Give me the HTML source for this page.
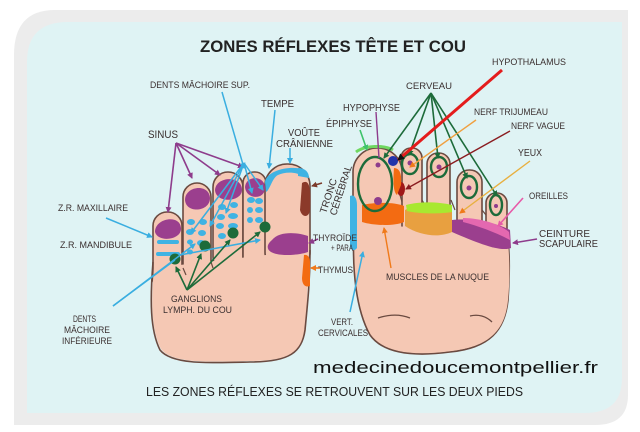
<!DOCTYPE html>
<html><head><meta charset="utf-8"><style>
html,body{margin:0;padding:0;background:#fff;}
svg{display:block}
text{font-family:"Liberation Sans",sans-serif;fill:#3a2f2f}
</style></head><body>
<svg width="640" height="432" viewBox="0 0 640 432" xmlns="http://www.w3.org/2000/svg">
<defs>
<marker id="mp" markerWidth="6" markerHeight="6" refX="5" refY="3" orient="auto" markerUnits="userSpaceOnUse"><path d="M0,0L6,3L0,6z" fill="#8e3c8c"/></marker>
<marker id="mb" markerWidth="6" markerHeight="6" refX="5" refY="3" orient="auto" markerUnits="userSpaceOnUse"><path d="M0,0L6,3L0,6z" fill="#3aaee0"/></marker>
<marker id="mg" markerWidth="6" markerHeight="6" refX="5" refY="3" orient="auto" markerUnits="userSpaceOnUse"><path d="M0,0L6,3L0,6z" fill="#1d6b3a"/></marker>
<marker id="mo" markerWidth="6" markerHeight="6" refX="5" refY="3" orient="auto" markerUnits="userSpaceOnUse"><path d="M0,0L6,3L0,6z" fill="#f07a1a"/></marker>
<marker id="mr" markerWidth="7" markerHeight="7" refX="6" refY="3.5" orient="auto" markerUnits="userSpaceOnUse"><path d="M0,0L7,3.5L0,7z" fill="#111"/></marker>
<marker id="md" markerWidth="6" markerHeight="6" refX="5" refY="3" orient="auto" markerUnits="userSpaceOnUse"><path d="M0,0L6,3L0,6z" fill="#8a1c20"/></marker>
<marker id="mk" markerWidth="6" markerHeight="6" refX="5" refY="3" orient="auto" markerUnits="userSpaceOnUse"><path d="M0,0L6,3L0,6z" fill="#e75aa8"/></marker>
<marker id="mn" markerWidth="6" markerHeight="6" refX="5" refY="3" orient="auto" markerUnits="userSpaceOnUse"><path d="M0,0L6,3L0,6z" fill="#7b3a2a"/></marker>
<marker id="ml" markerWidth="6" markerHeight="6" refX="5" refY="3" orient="auto" markerUnits="userSpaceOnUse"><path d="M0,0L6,3L0,6z" fill="#3ec36a"/></marker>
</defs>
<rect width="640" height="432" fill="#fff"/>
<path d="M55,10 L628,10 L628,395 Q628,425 595,425 L14,425 L14,55 Q14,10 55,10Z" fill="#ececec"/>
<path d="M68,22 L622,22 L622,378 Q622,413 585,413 L27,413 L27,62 Q27,22 68,22Z" fill="#dff3f4"/>

<text x="333" y="52" font-size="17" font-weight="bold" text-anchor="middle" style="fill:#222" textLength="266" lengthAdjust="spacingAndGlyphs">ZONES RÉFLEXES TÊTE ET COU</text>

<!-- LEFT FOOT -->
<g fill="#f5c8b4" stroke="#6a4a40" stroke-width="1.6">
<rect x="153" y="212" width="29" height="80" rx="14"/>
<rect x="183" y="183" width="28" height="100" rx="14"/>
<rect x="213" y="172" width="30" height="100" rx="15"/>
<rect x="243" y="172" width="23" height="100" rx="11"/>
<rect x="265" y="164" width="45" height="110" rx="22"/>
</g>
<path d="M154,268 L309,250 L306,330 C302,352 290,361 250,361 C210,362 172,364 161,349 C151,330 151,300 154,268Z" fill="#f5c8b4"/>
<path d="M153,262 C150,300 150,330 160,350 C172,365 210,363 250,362 C290,362 302,352 305,330 C308,300 310,280 310,250" fill="none" stroke="#6a4a40" stroke-width="1.6"/>
<path d="M183,268 L186,275 M211,262 L213,268" stroke="#6a4a40" stroke-width="1.2"/>
<g fill="#9b3f8e">
<path d="M155,232 C155,218 180,214 181,228 C182,240 158,243 155,232Z"/>
<path d="M185,200 C185,186 209,183 210,198 C210,212 186,214 185,200Z"/>
<path d="M215,190 C216,176 242,175 242,190 C242,202 216,204 215,190Z"/>
<path d="M245,187 C246,175 265,175 265,188 C265,200 246,200 245,187Z"/>
</g>
<g fill="#3fb3e3">
<rect x="157" y="240" width="22" height="4" rx="2"/><rect x="156" y="252" width="24" height="4" rx="2"/>
<ellipse cx="191" cy="222" rx="4" ry="3"/><ellipse cx="203" cy="222" rx="4" ry="3"/>
<ellipse cx="190" cy="232" rx="4" ry="3"/><ellipse cx="202" cy="233" rx="4" ry="3"/>
<ellipse cx="190" cy="242" rx="3" ry="2.5"/><ellipse cx="201" cy="243" rx="4" ry="3"/>
<ellipse cx="190" cy="252" rx="3" ry="2.5"/>
<ellipse cx="222" cy="207" rx="4" ry="3"/><ellipse cx="234" cy="205" rx="4" ry="3"/>
<ellipse cx="221" cy="217" rx="4" ry="3"/><ellipse cx="233" cy="216" rx="5" ry="3"/>
<ellipse cx="220" cy="226" rx="4" ry="3"/><ellipse cx="233" cy="226" rx="5" ry="3"/>
<ellipse cx="222" cy="236" rx="4" ry="3"/>
<ellipse cx="251" cy="200" rx="4" ry="3"/><ellipse cx="259" cy="201" rx="4" ry="3"/>
<ellipse cx="250" cy="210" rx="3" ry="3"/><ellipse cx="259" cy="210" rx="4" ry="3"/>
<ellipse cx="250" cy="220" rx="3" ry="3"/><ellipse cx="259" cy="220" rx="4" ry="3"/>
<path d="M265,182 C267,168 300,164 307,172 L305,177 C295,171 285,172 278,175 C272,178 270,190 266,192Z"/>
<path d="M298,168 C305,168 309,172 309,178 L298,176Z"/>
</g>
<path d="M302,183 C310,178 311,190 310,210 C309,218 302,218 300,210Z" fill="#8b3a2a"/>
<path d="M272,240 C280,230 300,233 308,236 L308,252 C300,255 280,257 271,252 C266,249 267,244 272,240Z" fill="#9b3f8e"/>
<path d="M304,255 C308,254 310,258 310,262 L310,286 C305,288 302,284 302,278Z" fill="#f36b12"/>
<g fill="#1d6b3a"><circle cx="175" cy="259" r="5.5"/><circle cx="205" cy="246" r="5.5"/><circle cx="233" cy="233" r="5.5"/><circle cx="265" cy="227" r="5.5"/></g>

<!-- RIGHT FOOT -->
<g fill="#f5c8b4" stroke="#6a4a40" stroke-width="1.6">
<rect x="486" y="193" width="21" height="70" rx="10"/>
<rect x="457" y="170" width="25" height="90" rx="12"/>
<rect x="427" y="153" width="23" height="90" rx="11"/>
<rect x="401" y="148" width="21" height="90" rx="10"/>
<rect x="353" y="148" width="49" height="120" rx="24"/>
<path d="M354,230 C352,270 356,310 370,335 C385,356 420,356 450,352 C490,348 505,330 508,300 C510,270 510,250 507,235"/>
</g>
<path d="M355,225 L507,230 C510,260 510,280 508,300 C505,330 490,347 450,351 C420,355 386,355 371,334 C357,310 353,270 355,225Z" fill="#f5c8b4"/>
<path d="M400,195 L402,202 M422,200 L425,205 M451,200 L455,210 M482,210 L486,215" stroke="#6a4a40" stroke-width="1.2"/>
<path d="M378,318 C390,314 400,314 410,318 M470,316 C478,314 486,316 492,322" fill="none" stroke="#6a4a40" stroke-width="1.3"/>
<path d="M362,205 C375,202 395,202 404,206 L404,222 C395,226 375,226 362,222Z" fill="#f36b12"/>
<path d="M405,210 C420,202 440,203 452,206 L452,232 C440,238 420,236 405,226Z" fill="#e8a040"/>
<path d="M406,205 C420,201 440,202 452,205 L452,212 C440,214 420,214 407,211Z" fill="#a8e830"/>
<path d="M452,220 C470,218 495,222 510,230 L511,248 C500,252 480,244 452,232Z" fill="#9b3f8e"/>
<path d="M463,218 C480,218 500,224 509,232 L510,240 C495,232 478,226 463,222Z" fill="#e468b0"/>
<path d="M350,196 C354,194 357,198 357,205 L357,248 C354,252 350,250 350,245Z" fill="#3fb3e3"/>
<ellipse cx="401" cy="189" rx="4" ry="7" fill="#a01818"/>
<path d="M394,168 C400,168 402,175 401,185 L397,195 C393,192 393,180 394,168Z" fill="#f36b12"/>
<circle cx="393" cy="161" r="5" fill="#2233aa"/>
<path d="M356,152 C365,145 385,145 393,150" fill="none" stroke="#6fd860" stroke-width="3"/>
<g fill="none" stroke="#1d6b3a" stroke-width="2.4">
<ellipse cx="375" cy="184" rx="17" ry="27"/>
<ellipse cx="410" cy="164" rx="8" ry="10"/>
<ellipse cx="439" cy="167" rx="8" ry="10"/>
<ellipse cx="469" cy="187" rx="8" ry="11"/>
<ellipse cx="496" cy="205" rx="6" ry="10"/>
</g>
<g fill="#8e3c8c"><circle cx="378" cy="201" r="4"/><circle cx="378" cy="165" r="2.5"/><circle cx="410" cy="163" r="2.5"/><circle cx="439" cy="167" r="2.5"/><circle cx="469" cy="188" r="2.5"/><circle cx="496" cy="206" r="2"/></g>

<!-- connectors -->
<g stroke="#8e3c8c" stroke-width="1.6" fill="none" marker-end="url(#mp)">
<line x1="176" y1="143" x2="168" y2="212"/><line x1="176" y1="143" x2="192" y2="178"/>
<line x1="176" y1="143" x2="220" y2="175"/><line x1="176" y1="143" x2="243" y2="167"/>
<line x1="318" y1="239" x2="309" y2="243"/>
</g>
<g stroke="#3aaee0" stroke-width="1.5" fill="none" marker-end="url(#mb)">
<line x1="222" y1="92" x2="244" y2="168"/>
<line x1="244" y1="163" x2="191" y2="233"/><line x1="244" y1="163" x2="210" y2="226"/>
<line x1="244" y1="163" x2="226" y2="213"/><line x1="244" y1="163" x2="252" y2="193"/>
<line x1="244" y1="163" x2="263" y2="190"/>
<line x1="275" y1="110" x2="269" y2="168"/>
<line x1="290" y1="148" x2="290" y2="163"/>
<line x1="106" y1="218" x2="152" y2="237"/>
<line x1="113" y1="306" x2="195" y2="244"/>
<line x1="180" y1="255" x2="260" y2="240"/>
<line x1="350" y1="312" x2="363" y2="252"/>
</g>
<line x1="113" y1="306" x2="175" y2="260" stroke="#3aaee0" stroke-width="1.5"/>
<line x1="322" y1="183" x2="312" y2="186" stroke="#7b3a2a" stroke-width="1.6" marker-end="url(#mn)"/>
<line x1="320" y1="268" x2="311" y2="268" stroke="#f07a1a" stroke-width="1.6" marker-end="url(#mo)"/>
<g stroke="#1d6b3a" stroke-width="1.6" fill="none" marker-end="url(#mg)">
<line x1="187" y1="290" x2="176" y2="267"/><line x1="187" y1="290" x2="201" y2="254"/>
<line x1="187" y1="290" x2="230" y2="240"/><line x1="187" y1="290" x2="260" y2="232"/>
<line x1="431" y1="93" x2="384" y2="158"/><line x1="431" y1="93" x2="409" y2="155"/>
<line x1="431" y1="93" x2="438" y2="158"/><line x1="431" y1="93" x2="467" y2="178"/>
<line x1="431" y1="93" x2="497" y2="196"/>
</g>
<line x1="376" y1="112" x2="379" y2="158" stroke="#8e3c8c" stroke-width="1.4"/>
<line x1="360" y1="130" x2="367" y2="150" stroke="#3ec36a" stroke-width="1.6" marker-end="url(#ml)"/>
<line x1="502" y1="70" x2="398" y2="160" stroke="#e41c1c" stroke-width="3" marker-end="url(#mr)"/>
<line x1="476" y1="120" x2="410" y2="167" stroke="#f0a040" stroke-width="1.4" marker-end="url(#mo)"/>
<line x1="510" y1="131" x2="406" y2="189" stroke="#8a1c20" stroke-width="1.4" marker-end="url(#md)"/>
<line x1="530" y1="161" x2="460" y2="213" stroke="#e8b040" stroke-width="1.4" marker-end="url(#mo)"/>
<line x1="523" y1="198" x2="498" y2="226" stroke="#e75aa8" stroke-width="1.6" marker-end="url(#mk)"/>
<line x1="537" y1="239" x2="513" y2="243" stroke="#8e3c8c" stroke-width="1.6" marker-end="url(#mp)"/>
<line x1="391" y1="268" x2="384" y2="228" stroke="#f07a1a" stroke-width="1.4" marker-end="url(#mo)"/>

<!-- labels -->
<g font-size="9" lengthAdjust="spacingAndGlyphs">
<text x="492" y="65" textLength="74" lengthAdjust="spacingAndGlyphs">HYPOTHALAMUS</text>
<text x="150" y="88" textLength="100" lengthAdjust="spacingAndGlyphs">DENTS MÂCHOIRE SUP.</text>
<text x="406" y="89" textLength="46" lengthAdjust="spacingAndGlyphs">CERVEAU</text>
<text x="261" y="107" font-size="10" textLength="33" lengthAdjust="spacingAndGlyphs">TEMPE</text>
<text x="343" y="111" font-size="10" textLength="57" lengthAdjust="spacingAndGlyphs">HYPOPHYSE</text>
<text x="474" y="115" textLength="74" lengthAdjust="spacingAndGlyphs">NERF TRIJUMEAU</text>
<text x="326" y="127" font-size="10" textLength="46" lengthAdjust="spacingAndGlyphs">ÉPIPHYSE</text>
<text x="511" y="129" textLength="54" lengthAdjust="spacingAndGlyphs">NERF VAGUE</text>
<text x="148" y="138" font-size="11" textLength="30" lengthAdjust="spacingAndGlyphs">SINUS</text>
<text x="288" y="136" font-size="10" textLength="32" lengthAdjust="spacingAndGlyphs">VOÛTE</text>
<text x="276" y="147" font-size="10" textLength="57" lengthAdjust="spacingAndGlyphs">CRÂNIENNE</text>
<text x="518" y="156" font-size="10" textLength="24" lengthAdjust="spacingAndGlyphs">YEUX</text>
<text x="529" y="199" textLength="39" lengthAdjust="spacingAndGlyphs">OREILLES</text>
<text x="58" y="211" textLength="70" lengthAdjust="spacingAndGlyphs">Z.R. MAXILLAIRE</text>
<text x="539" y="237" font-size="10" textLength="51" lengthAdjust="spacingAndGlyphs">CEINTURE</text>
<text x="539" y="247" font-size="10" textLength="59" lengthAdjust="spacingAndGlyphs">SCAPULAIRE</text>
<text x="313" y="241" textLength="44" lengthAdjust="spacingAndGlyphs">THYROÏDE</text>
<text x="331" y="251" textLength="22" lengthAdjust="spacingAndGlyphs">+ PARA</text>
<text x="60" y="248" textLength="72" lengthAdjust="spacingAndGlyphs">Z.R. MANDIBULE</text>
<text x="318" y="273" textLength="35" lengthAdjust="spacingAndGlyphs">THYMUS</text>
<text x="386" y="280" textLength="103" lengthAdjust="spacingAndGlyphs">MUSCLES DE LA NUQUE</text>
<text x="171" y="302" textLength="51" lengthAdjust="spacingAndGlyphs">GANGLIONS</text>
<text x="163" y="313" textLength="69" lengthAdjust="spacingAndGlyphs">LYMPH. DU COU</text>
<text x="73" y="322" textLength="23" lengthAdjust="spacingAndGlyphs">DENTS</text>
<text x="64" y="333" textLength="46" lengthAdjust="spacingAndGlyphs">MÂCHOIRE</text>
<text x="62" y="344" textLength="50" lengthAdjust="spacingAndGlyphs">INFÉRIEURE</text>
<text x="331" y="325" textLength="22" lengthAdjust="spacingAndGlyphs">VERT.</text>
<text x="318" y="336" textLength="50" lengthAdjust="spacingAndGlyphs">CERVICALES</text>
<text transform="translate(326,214) rotate(-72)" font-size="10" textLength="36" lengthAdjust="spacingAndGlyphs">TRONC</text>
<text transform="translate(336,216) rotate(-72)" font-size="10" textLength="52" lengthAdjust="spacingAndGlyphs">CÉRÉBRAL</text>
</g>
<text x="313" y="373" font-size="17" style="fill:#111" textLength="285" lengthAdjust="spacingAndGlyphs">medecinedoucemontpellier.fr</text>
<text x="146" y="396" font-size="13" style="fill:#222" textLength="377" lengthAdjust="spacingAndGlyphs">LES ZONES RÉFLEXES SE RETROUVENT SUR LES DEUX PIEDS</text>
</svg>
</body></html>
